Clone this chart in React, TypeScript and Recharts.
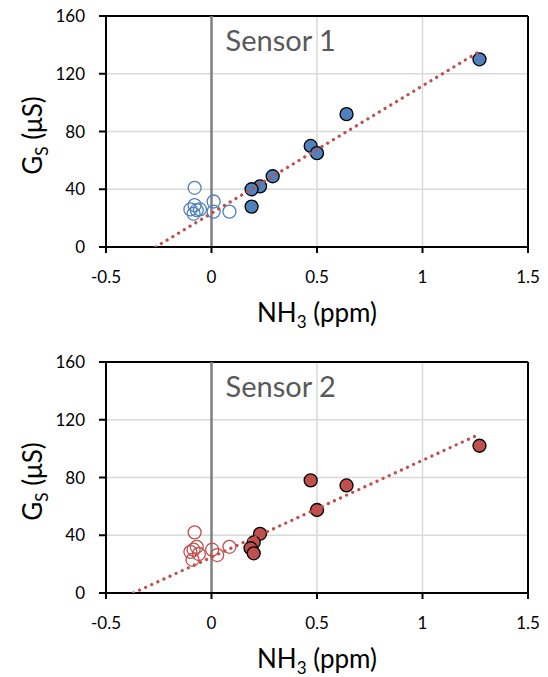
import {
  CartesianGrid,
  ReferenceLine,
  Scatter,
  ScatterChart,
  XAxis,
  YAxis,
} from "recharts";

type Point = { x: number; y: number };

const xTicks = [-0.5, 0, 0.5, 1, 1.5];
const yTicks = [0, 40, 80, 120, 160];

// sensor 1 (blue): filled = exposed, open = baseline points
const sensor1Filled: Point[] = [
  { x: 1.27, y: 130 },
  { x: 0.64, y: 92 },
  { x: 0.47, y: 70 },
  { x: 0.5, y: 65 },
  { x: 0.29, y: 49 },
  { x: 0.23, y: 42 },
  { x: 0.19, y: 40 },
  { x: 0.19, y: 28 },
];
const sensor1Open: Point[] = [
  { x: -0.08, y: 41 },
  { x: -0.1, y: 26 },
  { x: -0.08, y: 29 },
  { x: -0.07, y: 25.5 },
  { x: -0.085, y: 23 },
  { x: -0.055, y: 26 },
  { x: 0.01, y: 31.5 },
  { x: 0.01, y: 24.5 },
  { x: 0.085, y: 24.5 },
];
const sensor1Trend: Point[] = [
  { x: -0.265, y: 0 },
  { x: 1.265, y: 135 },
];

// sensor 2 (red)
const sensor2Filled: Point[] = [
  { x: 1.27, y: 102 },
  { x: 0.47, y: 78 },
  { x: 0.64, y: 74.5 },
  { x: 0.5, y: 57.5 },
  { x: 0.23, y: 41 },
  { x: 0.2, y: 35 },
  { x: 0.185, y: 31 },
  { x: 0.2, y: 27.5 },
];
const sensor2Open: Point[] = [
  { x: -0.08, y: 42 },
  { x: -0.085, y: 30 },
  { x: -0.07, y: 32 },
  { x: -0.06, y: 27 },
  { x: -0.09, y: 23 },
  { x: -0.1, y: 28.5 },
  { x: 0.003, y: 30 },
  { x: 0.027, y: 26.3 },
  { x: 0.085, y: 32 },
];
const sensor2Trend: Point[] = [
  { x: -0.37, y: 0 },
  { x: 1.27, y: 110 },
];

const FONT = "Lato, 'Open Sans', sans-serif";

type PanelProps = {
  title: string;
  filled: Point[];
  open: Point[];
  trend: Point[];
  color: string;
  height: number;
  top: number;
  xAxisHeight: number;
};

function SensorPanel({ title, filled, open, trend, color, height, top, xAxisHeight }: PanelProps) {
  return (
    <ScatterChart
      width={548}
      height={height}
      margin={{ top, right: 20, bottom: 0, left: 0 }}
      style={{ fontFamily: FONT }}
    >
      <CartesianGrid stroke="#d9d9d9" strokeWidth={1.5} />
      <XAxis
        type="number"
        dataKey="x"
        domain={[-0.5, 1.5]}
        ticks={xTicks}
        tickFormatter={(v) => String(v)}
        allowDataOverflow
        height={xAxisHeight}
        axisLine={{ stroke: "#000", strokeWidth: 2 }}
        tickLine={{ stroke: "#000", strokeWidth: 2 }}
        tickSize={6}
        tickMargin={18}
        tick={{ fill: "#000", fontSize: 17, fontFamily: FONT }}
        label={(props: any) => {
          const vb = props.viewBox || {};
          const cx = vb.x + vb.width / 2;
          const y = vb.y + 75;
          return (
            <text x={cx} y={y} textAnchor="middle" fontSize={26} fill="#000" fontFamily={FONT}>
              NH
              <tspan fontSize={17} dy={6}>3</tspan>
              <tspan dy={-6}> (ppm)</tspan>
            </text>
          );
        }}
      />
      <YAxis
        type="number"
        dataKey="y"
        domain={[0, 160]}
        ticks={yTicks}
        allowDataOverflow
        width={106}
        axisLine={{ stroke: "#000", strokeWidth: 2 }}
        tickLine={{ stroke: "#000", strokeWidth: 2 }}
        tickSize={7}
        tickMargin={14}
        tick={{ fill: "#000", fontSize: 17, fontFamily: FONT }}
        label={(props: any) => {
          const vb = props.viewBox || {};
          const x = 42;
          const cy = vb.y + vb.height / 2 + 4;
          return (
            <text
              x={x}
              y={cy}
              textAnchor="middle"
              fontSize={26}
              fill="#000"
              fontFamily={FONT}
              transform={`rotate(-90, ${x}, ${cy})`}
            >
              G
              <tspan fontSize={17} dy={6}>S</tspan>
              <tspan dy={-6}> (μS)</tspan>
            </text>
          );
        }}
      />
      <ReferenceLine y={160} stroke="#000" strokeWidth={2} />
      <ReferenceLine x={1.5} stroke="#000" strokeWidth={2} />
      <ReferenceLine
        x={0}
        stroke="#808080"
        strokeWidth={2.5}
        label={(props: any) => {
          const vb = props.viewBox || {};
          return (
            <text x={vb.x + 14} y={vb.y + 35} fontSize={29} fill="#595959" fontFamily={FONT}>
              {title}
            </text>
          );
        }}
      />
      <Scatter
        data={open}
        isAnimationActive={false}
        shape={(p: any) => (
          <circle cx={p.cx} cy={p.cy} r={6.5} fill="none" stroke={color} strokeWidth={1.3} />
        )}
      />
      <Scatter
        data={filled}
        isAnimationActive={false}
        shape={(p: any) => (
          <circle cx={p.cx} cy={p.cy} r={6.5} fill={color} stroke="#000" strokeWidth={1.3} />
        )}
      />
      <Scatter
        data={trend}
        isAnimationActive={false}
        line={{
          stroke: "#c0504d",
          strokeWidth: 3.2,
          strokeDasharray: "0.1 6.6",
          strokeLinecap: "round",
        }}
        shape={() => <g />}
      />
    </ScatterChart>
  );
}

export default function App() {
  return (
    <div style={{ position: "absolute", left: 0, top: 0, width: 548, height: 677, background: "#fff" }}>
      <SensorPanel
        title="Sensor 1"
        filled={sensor1Filled}
        open={sensor1Open}
        trend={sensor1Trend}
        color="#4f81bd"
        height={338}
        top={16}
        xAxisHeight={91}
      />
      <SensorPanel
        title="Sensor 2"
        filled={sensor2Filled}
        open={sensor2Open}
        trend={sensor2Trend}
        color="#c0504d"
        height={339}
        top={24}
        xAxisHeight={84}
      />
    </div>
  );
}
